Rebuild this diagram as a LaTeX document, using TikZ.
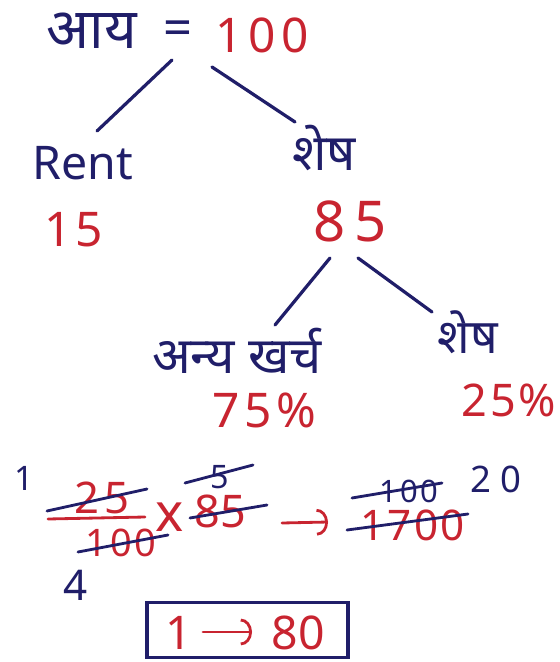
\documentclass[tikz,border=0pt]{standalone}
\usepackage{fontspec}
\usepackage{tikz}
\usetikzlibrary{arrows.meta}
\setmainfont{Noto Sans}
\newfontfamily\hindi[Script=Devanagari]{Noto Sans}
\definecolor{blueink}{RGB}{32,30,105}
\definecolor{redink}{RGB}{200,36,48}
\newcommand{\inksize}[1]{\fontsize{#1}{#1}\selectfont}
\newcommand{\wide}[1]{\addfontfeature{LetterSpace=#1}}

\begin{document}
\begin{tikzpicture}[x=0.025cm, y=-0.025cm,
  bluetext/.style={text=blueink, inner sep=0pt},
  redtext/.style={text=redink, inner sep=0pt},
  branch/.style={draw=blueink, line width=2.3pt, line cap=round},
  strike/.style={draw=blueink, line width=2pt, line cap=round},
  penarrow/.style={draw=redink, line width=2pt, line cap=round,
    -{Arc Barb[length=8pt, width=19pt]}}]

\useasboundingbox (0,0) rectangle (559,662);

% income
\node[bluetext, font=\hindi\inksize{40pt}] (aay) at (92,31) {आय};
\node[bluetext, font=\inksize{36pt}] (eq) at (178,33) {=};
\node[redtext, font=\inksize{34pt}\wide{12}] (total) at (262,35) {100};

% first split
\node[bluetext, font=\inksize{33pt}] (rent) at (83,163) {Rent};
\node[bluetext, font=\hindi\inksize{36pt}] (shesh) at (324,148) {शेष};
\node[redtext, font=\inksize{34pt}\wide{8}] (rentval) at (74,230) {15};
\node[redtext, font=\inksize{40pt}\wide{16}] (rest) at (350,221) {85};
\draw[branch] ([shift={(-6,27)}]eq.center) -- ([shift={(14,-32)}]rent.center);
\draw[branch] ([shift={(-50,32)}]total.center) -- ([shift={(-29,-26)}]shesh.center);

% second split
\node[bluetext, font=\hindi\inksize{36pt}] (anya) at (237,351) {अन्य खर्च};
\node[bluetext, font=\hindi\inksize{34pt}] (shesh2) at (468,332) {शेष};
\node[redtext, font=\inksize{34pt}\wide{10}] (other) at (264,410) {75\%};
\node[redtext, font=\inksize{32pt}\wide{6}] (saving) at (509,400) {25\%};
\draw[branch] ([shift={(-20,37)}]rest.center) -- ([shift={(38,-26)}]anya.center);
\draw[branch] ([shift={(8,37)}]rest.center) -- ([shift={(-36,-20)}]shesh2.center);

% working
\node[bluetext, font=\inksize{24pt}] (one) at (24,478) {1};
\node[redtext, font=\inksize{31pt}\wide{12}] (num) at (102,498) {25};
\node[redtext, font=\inksize{27pt}\wide{8}] (den) at (121,543) {100};
\node[bluetext, font=\inksize{30pt}] (four) at (76,585) {4};
\node[redtext, font=\inksize{38pt}] (times) at (170,517) {x};
\node[bluetext, font=\inksize{23pt}] (five) at (220,477) {5};
\node[redtext, font=\inksize{32pt}] (mult) at (220,511) {85};
\node[bluetext, font=\inksize{22pt}\wide{8}] (top) at (409,491) {100};
\node[bluetext, font=\inksize{26pt}\wide{25}] (twenty) at (496,479) {20};
\node[redtext, font=\inksize{30pt}\wide{6}] (prod) at (413,525) {1700};
\draw[draw=redink, line width=2pt, line cap=round] (48,519) -- (145,517);
\draw[strike] (47,511) -- (147,489);
\draw[strike] (78,552) -- (168,535);
\draw[strike] (185,483) -- (253,465);
\draw[strike] (190,518) -- (267,505);
\draw[strike] (352,498) -- (442,483);
\draw[strike] (347,530) -- (468,514);
\draw[penarrow] ([shift={(62,12)}]mult.center) -- ([shift={(-85,-3)}]prod.center);

% answer
\node[draw=blueink, line width=2.4pt, minimum width=5.025cm, minimum height=1.38cm,
      inner sep=0pt] (answer) at (247.5,630) {};
\node[redtext, font=\inksize{33pt}] (one2) at (179,633) {1};
\node[redtext, font=\inksize{33pt}] (eighty) at (298,633) {80};
\draw[penarrow] ([shift={(24,-1)}]one2.center) -- ([shift={(-46,-1)}]eighty.center);

\end{tikzpicture}
\end{document}
